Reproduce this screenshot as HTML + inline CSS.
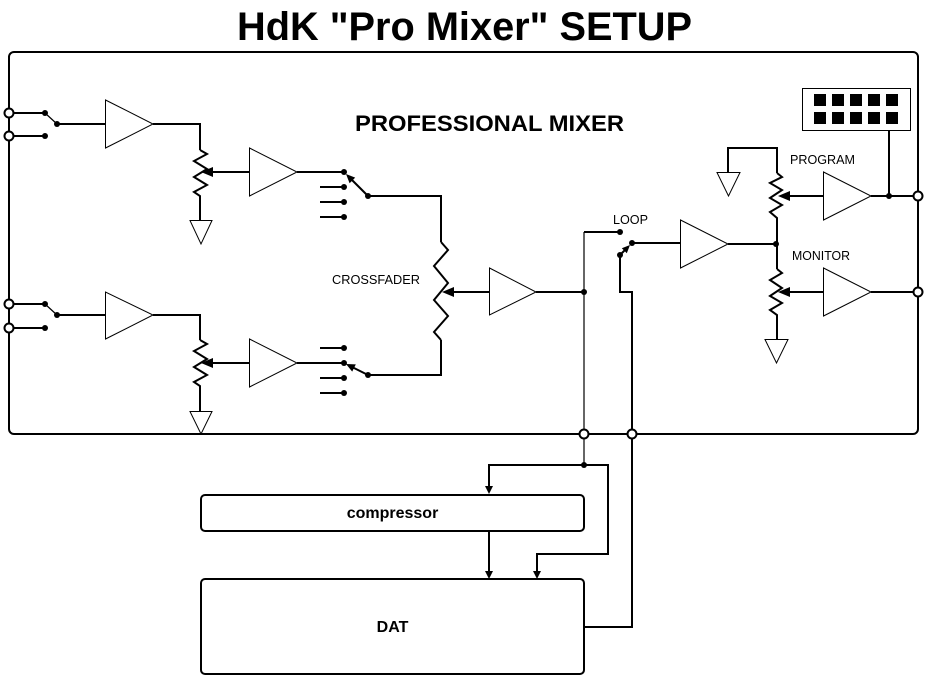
<!DOCTYPE html>
<html><head><meta charset="utf-8"><style>html,body{margin:0;padding:0;background:#fff}svg{display:block}</style></head>
<body>
<svg width="928" height="680" viewBox="0 0 928 680" xmlns="http://www.w3.org/2000/svg" font-family="'Liberation Sans', Arial, sans-serif">
<rect width="928" height="680" fill="#fff"/>
<!-- Title -->
<text x="237" y="40" font-size="40" font-weight="bold" textLength="455" lengthAdjust="spacingAndGlyphs">HdK "Pro Mixer" SETUP</text>

<!-- main box -->
<rect x="9" y="52" width="909" height="382" rx="5" fill="none" stroke="#000" stroke-width="2"/>
<text x="355" y="131" font-size="22" font-weight="bold" textLength="269" lengthAdjust="spacingAndGlyphs">PROFESSIONAL MIXER</text>

<g fill="none" stroke="#000" stroke-width="2" stroke-linejoin="miter">
<!-- channel 1 -->
<line x1="9" y1="113" x2="45" y2="113"/>
<line x1="9" y1="136" x2="45" y2="136"/>
<line x1="57" y1="124" x2="105" y2="124"/>
<polyline points="153,124 200,124 200,150"/>
<polyline points="200,150 207,154 194,161 207,169 194,177 207,185 194,192 200,196 200,220"/>
<line x1="212" y1="172" x2="249" y2="172"/>
<line x1="297" y1="172" x2="344" y2="172"/>
<line x1="320" y1="187" x2="344" y2="187"/>
<line x1="320" y1="202" x2="344" y2="202"/>
<line x1="320" y1="217" x2="344" y2="217"/>
<line x1="368" y1="196" x2="350" y2="178"/>
<polyline points="368,196 441,196 441,242"/>

<!-- channel 2 -->
<line x1="9" y1="304" x2="45" y2="304"/>
<line x1="9" y1="328" x2="45" y2="328"/>
<line x1="57" y1="315" x2="105" y2="315"/>
<polyline points="153,315 200,315 200,340"/>
<polyline points="200,340 207,344 194,351 207,359 194,367 207,375 194,382 200,386 200,411"/>
<line x1="212" y1="363" x2="249" y2="363"/>
<line x1="297" y1="363" x2="344" y2="363"/>
<line x1="320" y1="348" x2="344" y2="348"/>
<line x1="320" y1="378" x2="344" y2="378"/>
<line x1="320" y1="393" x2="344" y2="393"/>
<line x1="368" y1="375" x2="352" y2="367"/>
<polyline points="368,375 441,375 441,340"/>

<!-- crossfader -->
<polyline points="441,242 448,250 434,266 448,283 434,300 448,316 434,332 441,340"/>
<line x1="452" y1="292" x2="489" y2="292"/>
<line x1="536" y1="292" x2="584" y2="292"/>

<!-- loop -->
<polyline points="584,232 620,232"/>
<line x1="632" y1="243" x2="680" y2="243"/>
<line x1="620" y1="255" x2="628" y2="247"/>
<polyline points="620,255 620,292 632,292 632,430"/>
<line x1="728" y1="244" x2="776" y2="244"/>

<!-- program pot -->
<polyline points="728,172 728,148 777,148 777,173"/>
<polyline points="777,173 782,177 770,183 782,190 770,198 782,205 770,212 777,218 777,269"/>
<polyline points="777,269 782,273 770,280 782,288 770,296 782,303 770,310 777,315 777,339"/>
<line x1="790" y1="196" x2="823" y2="196"/>
<line x1="871" y1="196" x2="913" y2="196"/>
<line x1="889" y1="131" x2="889" y2="196"/>
<line x1="790" y1="292" x2="823" y2="292"/>
<line x1="871" y1="292" x2="913" y2="292"/>

<!-- bottom -->
<polyline points="584,465 489,465 489,487"/>
<polyline points="584,465 608,465 608,554 537,554 537,572"/>
<line x1="489" y1="531" x2="489" y2="572"/>
<polyline points="584,627 632,627 632,439"/>
<rect x="201" y="495" width="383" height="36" rx="4"/>
<rect x="201" y="579" width="383" height="95" rx="4"/>
</g>

<!-- thin lines -->
<g fill="none" stroke="#000" stroke-width="1.2">
<line x1="45" y1="113" x2="57" y2="124"/>
<line x1="45" y1="304" x2="57" y2="315"/>
<line x1="584" y1="232" x2="584" y2="430"/>
<line x1="584" y1="439" x2="584" y2="465"/>
</g>

<!-- amplifiers and grounds (thin) -->
<g fill="#fff" stroke="#000" stroke-width="1">
<polygon points="105.5,100 105.5,148 153,124"/>
<polygon points="249.5,148 249.5,196 297,172"/>
<polygon points="105.5,292 105.5,339 153,315"/>
<polygon points="249.5,339 249.5,387 297,363"/>
<polygon points="489.5,268 489.5,315 536,292"/>
<polygon points="680.5,220 680.5,268 728,244"/>
<polygon points="823.5,172 823.5,220 871,196"/>
<polygon points="823.5,268 823.5,316 871,292"/>
<polygon points="190,220.5 212,220.5 201,244"/>
<polygon points="190,411.5 212,411.5 201,434"/>
<polygon points="717,172.5 740,172.5 728.5,196"/>
<polygon points="765,339.5 788,339.5 776.5,363"/>
<rect x="802.5" y="88.5" width="108" height="42"/>
</g>

<!-- filled arrows / dots -->
<g fill="#000" stroke="none">
<polygon points="201,172 213,167 213,177"/>
<polygon points="201,363 213,358 213,368"/>
<polygon points="442,292 454,287 454,297"/>
<polygon points="778,196 790,191 790,201"/>
<polygon points="778,292 790,287 790,297"/>
<polygon points="346,174 355.2,177.6 349.6,183.2"/>
<polygon points="346,364 355.8,364.4 352.2,371.6"/>
<polygon points="630,245 626.8,253.2 621.8,248.2"/>
<polygon points="485,486 493,486 489,494"/>
<polygon points="533,571 541,571 537,579"/>
<polygon points="485,571 493,571 489,579"/>
<circle cx="45" cy="113" r="3"/><circle cx="45" cy="136" r="3"/><circle cx="57" cy="124" r="3"/>
<circle cx="45" cy="304" r="3"/><circle cx="45" cy="328" r="3"/><circle cx="57" cy="315" r="3"/>
<circle cx="344" cy="172" r="3"/><circle cx="344" cy="187" r="3"/><circle cx="344" cy="202" r="3"/><circle cx="344" cy="217" r="3"/><circle cx="368" cy="196" r="3"/>
<circle cx="344" cy="348" r="3"/><circle cx="344" cy="363" r="3"/><circle cx="344" cy="378" r="3"/><circle cx="344" cy="393" r="3"/><circle cx="368" cy="375" r="3"/>
<circle cx="584" cy="292" r="3"/>
<circle cx="620" cy="232" r="3"/><circle cx="632" cy="243" r="3"/><circle cx="620" cy="255" r="3"/>
<circle cx="776" cy="244" r="3"/>
<circle cx="889" cy="196" r="3"/>
<circle cx="584" cy="465" r="3"/>
<!-- display squares -->
<rect x="814" y="94" width="12" height="12"/><rect x="832" y="94" width="12" height="12"/><rect x="850" y="94" width="12" height="12"/><rect x="868" y="94" width="12" height="12"/><rect x="886" y="94" width="12" height="12"/>
<rect x="814" y="112" width="12" height="12"/><rect x="832" y="112" width="12" height="12"/><rect x="850" y="112" width="12" height="12"/><rect x="868" y="112" width="12" height="12"/><rect x="886" y="112" width="12" height="12"/>
</g>

<!-- connector circles -->
<g fill="#fff" stroke="#000" stroke-width="2">
<circle cx="9" cy="113" r="4.5"/>
<circle cx="9" cy="136" r="4.5"/>
<circle cx="9" cy="304" r="4.5"/>
<circle cx="9" cy="328" r="4.5"/>
<circle cx="918" cy="196" r="4.5"/>
<circle cx="918" cy="292" r="4.5"/>
<circle cx="584" cy="434" r="4.5"/>
<circle cx="632" cy="434" r="4.5"/>
</g>

<!-- labels -->
<g font-size="12.5" fill="#000">
<text x="332" y="284" textLength="88" lengthAdjust="spacingAndGlyphs">CROSSFADER</text>
<text x="613" y="224" textLength="35" lengthAdjust="spacingAndGlyphs">LOOP</text>
<text x="790" y="164" textLength="65" lengthAdjust="spacingAndGlyphs">PROGRAM</text>
<text x="792" y="260" textLength="58" lengthAdjust="spacingAndGlyphs">MONITOR</text>
</g>
<text x="392.5" y="518" font-size="16" font-weight="bold" text-anchor="middle">compressor</text>
<text x="392.5" y="632" font-size="16" font-weight="bold" text-anchor="middle">DAT</text>
</svg>
</body></html>
